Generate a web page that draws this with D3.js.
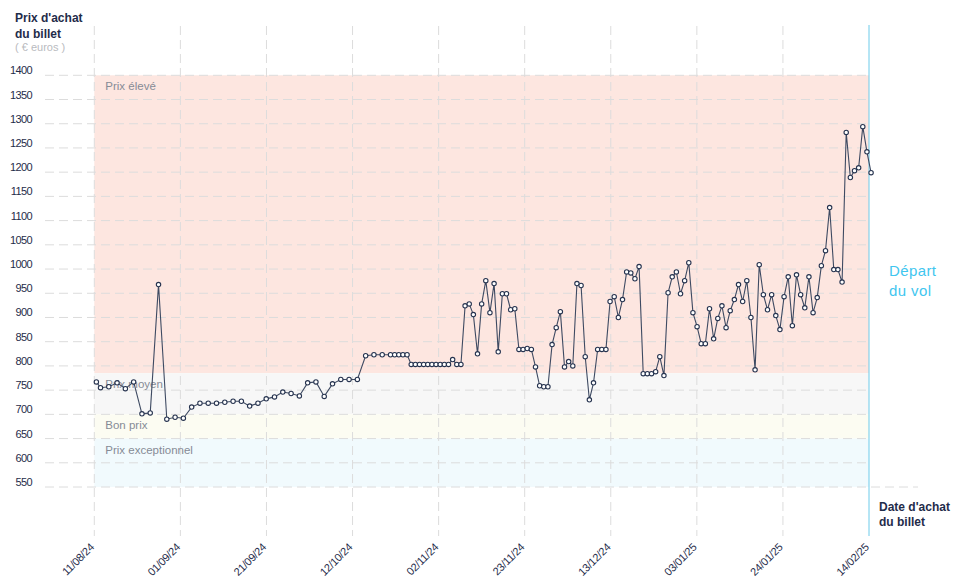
<!DOCTYPE html>
<html><head><meta charset="utf-8">
<script src="https://cdn.jsdelivr.net/npm/d3@7"></script>
<style>
body{margin:0;background:#fff}
svg{display:block;font-family:"Liberation Sans",Arial,sans-serif}
</style>
</head><body>
<svg id="chart" width="958" height="585"></svg>
<script>
// ---- data ----
const startDate = "2024-08-11";
const dayOffsets = [0,1,3,5,7,9,11,13,15,17,19,21,23,25,27,29,31,33,35,37,39,41,43,45,47,49,51,53,55,57,59,61,63,
  65,67,69,71,72,73,74,75,
  76,77,78,79,80,81,82,83,84,85,86,87,88,
  89,90,91,92,93,94,95,96,97,98,99,100,101,102,103,104,105,106,107,108,109,110,111,112,
  113,114,115,116,117,118,119,120,121,122,123,124,125,126,127,128,129,130,131,132,133,134,135,136,137,
  138,139,140,141,142,143,144,145,146,147,148,149,150,151,152,153,154,155,156,157,158,159,160,161,162,163,164,165,
  166,167,168,169,170,171,172,173,174,175,176,177,178,179,180,181,182,183,184,185,186,187];
const prices = [767,755,757,765,753,767,701,703,968,690,694,692,715,723,723,723,725,727,727,717,723,732,736,746,743,738,765,767,737,763,772,772,772,
  821,823,823,823,823,823,823,823,
  803,803,803,803,803,803,803,803,803,803,813,803,803,
  924,928,906,825,928,976,910,970,829,949,949,916,918,834,834,836,834,798,759,757,757,844,879,912,
  798,809,800,970,966,819,730,765,834,834,834,933,943,900,937,994,992,980,1005,784,784,784,788,819,780,
  951,984,994,949,976,1013,910,881,846,846,918,856,898,924,879,914,937,968,933,976,900,792,1009,947,916,947,904,875,
  943,984,883,988,947,920,984,910,941,1007,1038,1127,999,999,973,1282,1189,1203,1209,1294,1242,1199];
const tickLabels = ["11/08/24","01/09/24","21/09/24","12/10/24","02/11/24","23/11/24","13/12/24","03/01/25","24/01/25","14/02/25"];
const yTicks = [550,600,650,700,750,800,850,900,950,1000,1050,1100,1150,1200,1250,1300,1350,1400];
const bandNames = ["Prix élevé","Prix moyen","Bon prix","Prix exceptionnel"];
const bandLow  = [785,700,650,550];
const bandHigh = [1400,785,700,650];

// ---- styles ----
const bandColors = ["#fde6e0","#f7f7f7","#fcfcf2","#f1fafd"];
const navy = "#1f2c4a";

const svg = d3.select("#chart");
const t0 = d3.utcParse("%Y-%m-%d")(startDate);
// observations were recorded around midday
const data = dayOffsets.map((d,i)=>({date:d3.utcHour.offset(d3.utcDay.offset(t0,d),12), price:prices[i]}));
const tEnd = d3.utcDay.floor(d3.max(data,d=>d.date));

const x = d3.scaleUtc().domain([t0,tEnd]).range([94.3,869]);
const y = d3.scaleLinear().domain([550,1400]).range([487,75.3]);
const [d0,d1] = x.domain();
const tickDates = tickLabels.map((_,i)=>new Date(+d0 + i*(d1-d0)/(tickLabels.length-1)));

// bands
svg.append("g").selectAll("rect").data(bandNames).join("rect")
  .attr("x",x(d0)).attr("width",x(d1)-x(d0))
  .attr("y",(d,i)=>y(bandHigh[i])).attr("height",(d,i)=>y(bandLow[i])-y(bandHigh[i]))
  .attr("fill",(d,i)=>bandColors[i]);

// horizontal grid + y labels
const yg = svg.append("g");
yg.selectAll("line").data(yTicks).join("line")
  .attr("x1",45).attr("x2",d=>d===550?918:x(d1))
  .attr("y1",d=>y(d)).attr("y2",d=>y(d))
  .attr("stroke","#dcdcdc").attr("stroke-dasharray","9,5");
yg.selectAll("text").data(yTicks).join("text")
  .attr("x",32).attr("y",d=>y(d)-1).attr("text-anchor","end")
  .attr("font-size",11).attr("letter-spacing","-0.6").attr("fill",navy).text(d=>d);

// vertical grid
const xg = svg.append("g");
xg.selectAll("line").data(tickDates.slice(0,-1)).join("line")
  .attr("x1",d=>x(d)).attr("x2",d=>x(d)).attr("y1",26).attr("y2",536)
  .attr("stroke","#dcdcdc").attr("stroke-dasharray","9,5");
xg.selectAll("text").data(tickDates).join("text")
  .attr("transform",d=>`translate(${x(d)+0.5},${548}) rotate(-45)`)
  .attr("text-anchor","end").attr("font-size",11).attr("letter-spacing","-0.3").attr("fill",navy)
  .text((d,i)=>tickLabels[i]);

// band labels
svg.append("g").selectAll("text").data(bandNames).join("text")
  .attr("x",x(d0)+11).attr("y",(d,i)=>y(bandHigh[i])+15)
  .attr("font-size",11.5).attr("fill","#868b96").text(d=>d);

// departure line
svg.append("line").attr("x1",x(d1)).attr("x2",x(d1)).attr("y1",25).attr("y2",536)
  .attr("stroke","#6ccbea").attr("stroke-width",1);

// price line
svg.append("path").datum(data)
  .attr("d",d3.line().x(d=>x(d.date)).y(d=>y(d.price)))
  .attr("fill","none").attr("stroke","#3e4a62").attr("stroke-width",1.1);
svg.append("g").selectAll("circle").data(data).join("circle")
  .attr("cx",d=>x(d.date)).attr("cy",d=>y(d.price)).attr("r",2.2)
  .attr("fill","#fff").attr("stroke","#26334f").attr("stroke-width",1.1);

// titles
const ttl = svg.append("text").attr("x",15).attr("y",21.5).attr("font-size",12).attr("font-weight","bold").attr("fill",navy);
ttl.append("tspan").attr("x",15).text("Prix d'achat");
ttl.append("tspan").attr("x",15).attr("dy",16).text("du billet");
svg.append("text").attr("x",15).attr("y",50.5).attr("font-size",11).attr("fill","#b9bbc0").text("( € euros )");

const xt = svg.append("text").attr("x",879).attr("y",510.5).attr("font-size",12).attr("font-weight","bold").attr("fill",navy);
xt.append("tspan").attr("x",879).text("Date d'achat");
xt.append("tspan").attr("x",879).attr("dy",15.5).text("du billet");

const dep = svg.append("text").attr("x",889).attr("y",275.5).attr("font-size",15).attr("letter-spacing","0.4").attr("fill","#3fc6ef");
dep.append("tspan").attr("x",889).text("Départ");
dep.append("tspan").attr("x",889).attr("dy",20).text("du vol");
</script>
</body></html>
